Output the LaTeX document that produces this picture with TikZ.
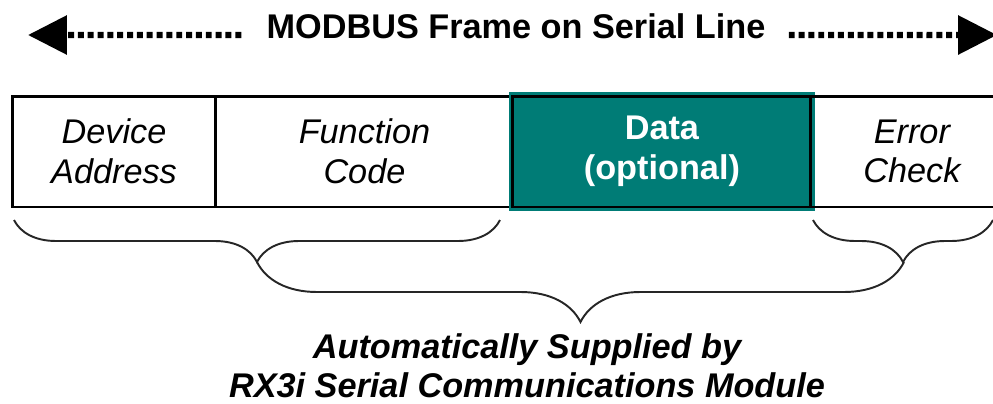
\documentclass[tikz,border=0pt]{standalone}
\usepackage{fontspec}
\setmainfont{Liberation Sans}
\definecolor{FrameTeal}{RGB}{0, 124, 118}
\usetikzlibrary{arrows.meta, positioning, decorations.pathreplacing}

\begin{document}
\begin{tikzpicture}[x=0.02cm, y=-0.02cm, font=\fontsize{19.5}{22.5}\selectfont,
  cell/.style={draw, line width=1.7pt, outer sep=0pt, minimum height=2.22cm, align=center, font=\fontsize{19.5}{22.5}\selectfont\itshape},
  dotar/.style={-{Triangle[length=0.78cm, width=0.76cm]}, line width=3.6pt, dash pattern=on 3.4pt off 2.2pt},
  br/.style={decorate, decoration={brace, amplitude=#1}, line width=1.1pt, black!85}]
\clip (0,0) rectangle (993,403);
% title with the two dotted arrows
\node[inner sep=0pt, font=\fontsize{19.5}{22.5}\selectfont\bfseries] (title) at (516,26) {MODBUS Frame on Serial Line};
\coordinate (lend) at (28,35);
\coordinate (rend) at (997,35);
\draw[dotar] ([xshift=-0.5cm, yshift=-0.18cm]title.west) -- (lend);
\draw[dotar] ([xshift=0.46cm, yshift=-0.18cm]title.east) -- (rend);
% frame cells
\node[cell, minimum width=4.08cm] (addr) at (114,151.5) {Device\\Address};
\node[cell, minimum width=5.94cm, right=0pt of addr] (func) {Function\\Code};
\node[cell, minimum width=5.96cm, right=0pt of func, fill=FrameTeal, text=white,
  font=\fontsize{19.5}{22.5}\selectfont\bfseries, preaction={draw=FrameTeal, line width=4.5pt}] (data) {Data\\(optional)};
\node[cell, minimum width=4.04cm, right=0pt of data] (err) {Error\\Check};
% braces
\coordinate (b1l) at (14,220); \coordinate (b1r) at (500,220);
\coordinate (b2l) at (813,220); \coordinate (b2r) at (993,220);
\coordinate (tip1) at (257,262); \coordinate (tip2) at (904,262);
\draw[br=0.84cm] (b1r) -- (b1l);
\draw[br=0.84cm] (b2r) -- (b2l);
\draw[br=1.2cm] (tip2) -- (tip1);
\node[align=center, inner sep=0pt, font=\fontsize{19.5}{22}\selectfont\bfseries\itshape] (auto) at (527,366) {Automatically Supplied by\\RX3i Serial Communications Module};
\end{tikzpicture}
\end{document}
